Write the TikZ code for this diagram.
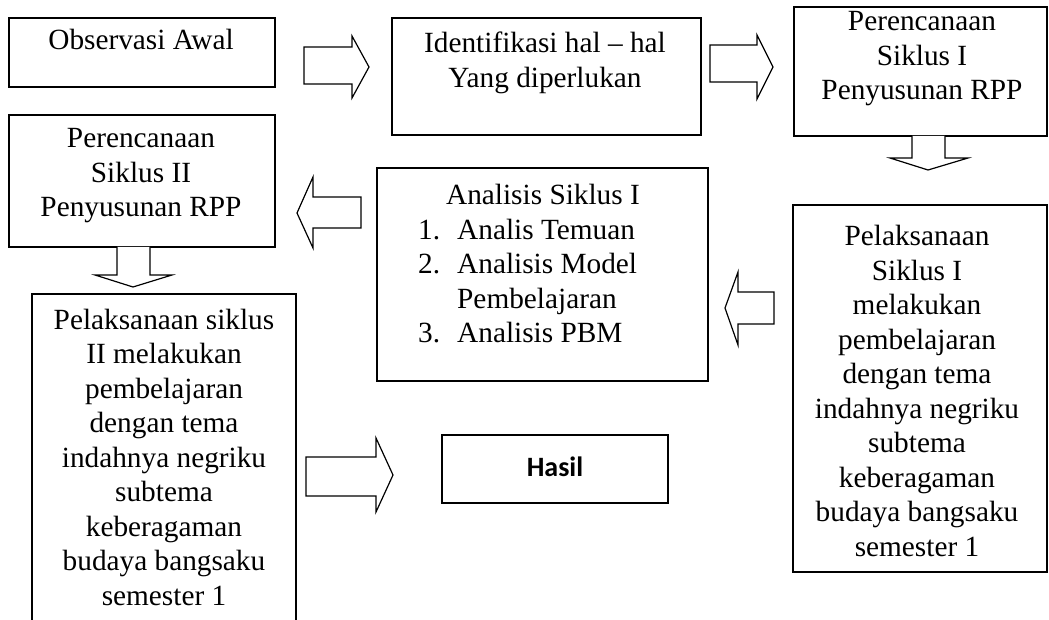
\documentclass[tikz,border=0pt]{standalone}
\usepackage{fontspec}
\setmainfont{Liberation Serif}
\newfontfamily\calibrifont{Carlito}
\begin{document}
\begin{tikzpicture}[x=1pt,y=-1pt,
  box/.style={draw=black,line width=1.4pt,inner sep=0pt,outer sep=0pt},
  txt/.style={align=center,inner sep=0pt,font=\fontsize{29.3}{34.5}\selectfont},
  blk/.style={draw=black,line width=1.2pt,line join=miter,fill=white}]
\useasboundingbox[fill=white] (0,0) rectangle (1049,620);
% boxes
\node[box,minimum width=266pt,minimum height=69pt] (b1) at (142,52.5) {};
\node[box,minimum width=309pt,minimum height=117pt] (b2) at (546.5,76.5) {};
\node[box,minimum width=253pt,minimum height=129pt] (b3) at (920.5,71.5) {};
\node[box,minimum width=266pt,minimum height=132pt] (b4) at (142,181) {};
\node[box,minimum width=331pt,minimum height=213pt] (b5) at (542.5,274.5) {};
\node[box,minimum width=254pt,minimum height=367pt] (b6) at (920,388.5) {};
\node[box,minimum width=264pt,minimum height=356pt] (b7) at (164,472) {};
\node[box,minimum width=226pt,minimum height=68pt] (b8) at (555,469) {};
% texts
\node[txt] (t1) at (141,39) {Observasi Awal};
\node[txt] (t2) at (545,63) {Identifikasi hal – hal\\Yang diperlukan};
\node[txt] (t3) at (922,59) {Perencanaan\\Siklus I\\Penyusunan RPP};
\node[txt] (t4) at (141,176) {Perencanaan\\Siklus II\\Penyusunan RPP};
\node[txt] (t5a) at (543,194) {Analisis Siklus I};
\node[txt,align=left,anchor=west] (t5b) at (418,281) {\makebox[39pt][l]{1.}Analis Temuan\\\makebox[39pt][l]{2.}Analisis Model\\\makebox[39pt][l]{}Pembelajaran\\\makebox[39pt][l]{3.}Analisis PBM};
\node[txt] (t6) at (917,391) {Pelaksanaan\\Siklus I\\melakukan\\pembelajaran\\dengan tema\\indahnya negriku\\subtema\\keberagaman\\budaya bangsaku\\semester 1};
\node[txt] (t7) at (164,457) {Pelaksanaan siklus\\II melakukan\\pembelajaran\\dengan tema\\indahnya negriku\\subtema\\keberagaman\\budaya bangsaku\\semester 1};
\node[inner sep=0pt,font=\calibrifont\bfseries\fontsize{28}{33}\selectfont] (t8) at (555,467) {Hasil};
% block arrows
\draw[blk] (304,47)--(352,47)--(352,36)--(369,67)--(352,98)--(352,84)--(304,84)--cycle;
\draw[blk] (710,45)--(757,45)--(757,35)--(773,67)--(757,99)--(757,82)--(710,82)--cycle;
\draw[blk] (912,136)--(912,158)--(890,158)--(928,170)--(968,158)--(945,158)--(945,136);
\draw[blk] (117,247)--(117,275)--(95,275)--(133,287)--(172,275)--(150,275)--(150,247);
\draw[blk] (361,197)--(313,197)--(313,177)--(297,213)--(313,248)--(313,228)--(361,228)--cycle;
\draw[blk] (774,292)--(738,292)--(738,272)--(725,308)--(738,345)--(738,324)--(774,324)--cycle;
\draw[blk] (306,457)--(376,457)--(376,438)--(393,475)--(376,512)--(376,496)--(306,496)--cycle;
\end{tikzpicture}
\end{document}
